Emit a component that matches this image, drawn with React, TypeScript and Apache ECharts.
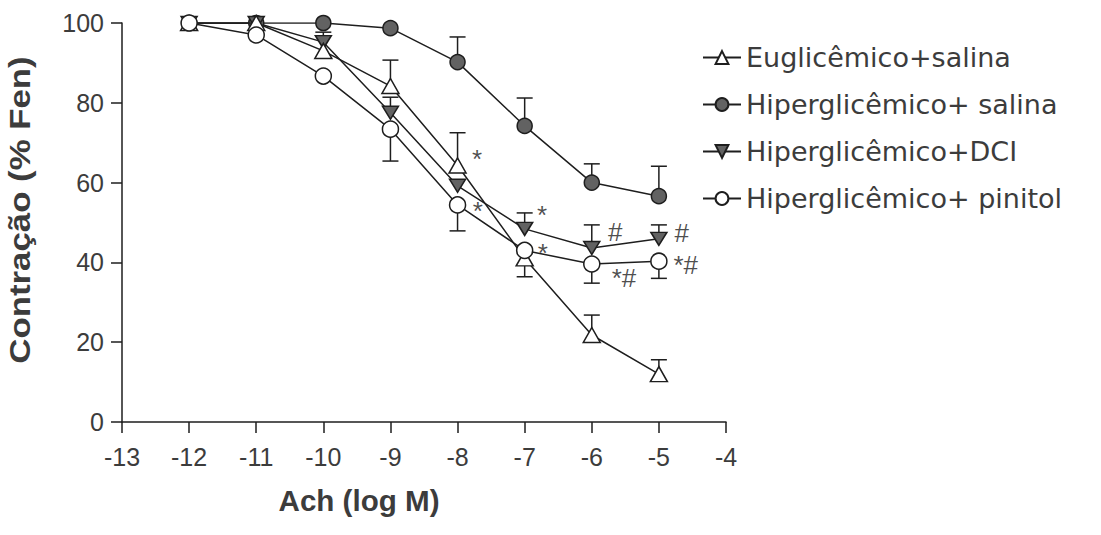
import React, { useEffect, useRef } from "react";
import * as echarts from "echarts";

const xVals = [-12, -11, -10, -9, -8, -7, -6, -5];
const xTicks = [-13, -12, -11, -10, -9, -8, -7, -6, -5, -4];
const yTicks = [0, 20, 40, 60, 80, 100];

const seriesNames = [
  "Euglicêmico+salina",
  "Hiperglicêmico+ salina",
  "Hiperglicêmico+DCI",
  "Hiperglicêmico+ pinitol",
];

const euVals = [100, 100, 93, 84.2, 64.3, 41, 21.8, 12];
const euErrUp = [0, 0, 0, 6.5, 8.2, 0, 5, 3.6];
const euErrDown = [0, 0, 0, 0, 0, 4.6, 0, 0];

const hsVals = [100, 100, 100, 98.7, 90.2, 74.2, 60, 56.6];
const hsErrUp = [0, 0, 0, 0, 6.3, 7, 4.7, 7.5];
const hsErrDown = [0, 0, 0, 0, 0, 0, 0, 0];

const dciVals = [100, 100, 95.2, 77.5, 59.2, 48.4, 43.6, 45.9];
const dciErrUp = [0, 0, 2.5, 3.9, 0, 4, 5.8, 3.5];
const dciErrDown = [0, 0, 0, 0, 0, 0, 0, 0];

const pinVals = [100, 97, 86.7, 73.4, 54.4, 43, 39.6, 40.3];
const pinErrUp = [0, 0, 0, 0, 0, 0, 0, 0];
const pinErrDown = [0, 0, 0, 8, 6.5, 0, 4.8, 4.3];

const annText = ["*", "*", "*", "*", "#", "#", "*#", "*#"];
const annX = [-7.71, -7.7, -6.74, -6.73, -5.65, -4.66, -5.52, -4.6];
const annY = [65.9, 52.9, 51.9, 42.4, 47.6, 47.4, 36.1, 39.3];

const INK = "#1e1e1e";
const TEXT = "#3c3c3c";
const FILL = "#626262";

function buildOption() {
  const groups = [
    { vals: euVals, up: euErrUp, dn: euErrDown },
    { vals: hsVals, up: hsErrUp, dn: hsErrDown },
    { vals: dciVals, up: dciErrUp, dn: dciErrDown },
    { vals: pinVals, up: pinErrUp, dn: pinErrDown },
  ];
  const errData: number[][] = [];
  groups.forEach((g) => {
    xVals.forEach((x, i) => {
      if (g.up[i] > 0 || g.dn[i] > 0) errData.push([x, g.vals[i], g.up[i], g.dn[i]]);
    });
  });

  const symbolStyles = [
    { symbol: "triangle", symbolSize: [17, 15], symbolRotate: 0, color: "#fff" },
    { symbol: "circle", symbolSize: 15, symbolRotate: 0, color: FILL },
    { symbol: "triangle", symbolSize: [16, 13], symbolRotate: 180, color: FILL },
    { symbol: "circle", symbolSize: 16, symbolRotate: 0, color: "#fff" },
  ];

  const lineSeries = groups.map((g, k) => ({
    name: seriesNames[k],
    type: "line",
    data: xVals.map((x, i) => [x, g.vals[i]]),
    symbol: symbolStyles[k].symbol,
    symbolSize: symbolStyles[k].symbolSize,
    symbolRotate: symbolStyles[k].symbolRotate,
    showAllSymbol: true,
    z: 3 + (k === 3 || k === 0 ? 1 : 0),
    lineStyle: { color: INK, width: 1.5 },
    itemStyle: { color: symbolStyles[k].color, borderColor: INK, borderWidth: 1.5 },
    emphasis: { disabled: true },
  }));

  return {
    animation: false,
    backgroundColor: "#fff",
    grid: { left: 122, top: 23, width: 604, height: 399, containLabel: false },
    xAxis: {
      type: "value",
      min: -13,
      max: -4,
      interval: 1,
      axisLine: { show: true, onZero: false, lineStyle: { color: INK, width: 1.5 } },
      axisTick: { show: true, length: 11, inside: false, lineStyle: { color: INK, width: 1.5 } },
      splitLine: { show: false },
      axisLabel: {
        margin: 22,
        fontSize: 25,
        color: TEXT,
        fontFamily: "Liberation Sans, Arial, sans-serif",
        formatter: (v: number) => (xTicks.includes(v) ? String(v) : ""),
      },
    },
    yAxis: {
      type: "value",
      min: 0,
      max: 100,
      interval: 20,
      axisLine: { show: true, onZero: false, lineStyle: { color: INK, width: 1.5 } },
      axisTick: { show: true, length: 11, inside: false, lineStyle: { color: INK, width: 1.5 } },
      splitLine: { show: false },
      axisLabel: {
        margin: 18,
        fontSize: 25,
        color: TEXT,
        fontFamily: "Liberation Sans, Arial, sans-serif",
        formatter: (v: number) => (yTicks.includes(v) ? String(v) : ""),
      },
    },
    legend: {
      orient: "vertical",
      left: 697,
      top: 39,
      itemWidth: 38,
      itemHeight: 16,
      itemGap: 20,
      data: seriesNames,
      selectedMode: false,
      textStyle: {
        fontSize: 27,
        color: TEXT,
        fontFamily: "DejaVu Sans, sans-serif",
      },
    },
    graphic: [
      {
        type: "text",
        x: 20,
        y: 210,
        rotation: Math.PI / 2,
        scaleX: 1.2,
        style: {
          text: "Contração (% Fen)",
          fontSize: 29,
          fontWeight: "bold",
          fontFamily: "Liberation Sans, Arial, sans-serif",
          fill: TEXT,
          align: "center",
          verticalAlign: "middle",
        },
      },
      {
        type: "text",
        x: 359,
        y: 501,
        scaleX: 1.02,
        style: {
          text: "Ach (log M)",
          fontSize: 29,
          fontWeight: "bold",
          fontFamily: "Liberation Sans, Arial, sans-serif",
          fill: TEXT,
          align: "center",
          verticalAlign: "middle",
        },
      },
    ],
    series: [
      {
        name: "err",
        type: "custom",
        z: 2,
        silent: true,
        data: errData,
        renderItem: (params: any, api: any) => {
          const x = api.value(0);
          const y = api.value(1);
          const up = api.value(2);
          const dn = api.value(3);
          const c = api.coord([x, y]);
          const children: any[] = [];
          const cap = 8;
          const st = { stroke: INK, lineWidth: 1.5 };
          if (up > 0) {
            const t = api.coord([x, y + up]);
            children.push({ type: "line", shape: { x1: c[0], y1: c[1], x2: t[0], y2: t[1] }, style: st });
            children.push({ type: "line", shape: { x1: t[0] - cap, y1: t[1], x2: t[0] + cap, y2: t[1] }, style: st });
          }
          if (dn > 0) {
            const b = api.coord([x, y - dn]);
            children.push({ type: "line", shape: { x1: c[0], y1: c[1], x2: b[0], y2: b[1] }, style: st });
            children.push({ type: "line", shape: { x1: b[0] - cap, y1: b[1], x2: b[0] + cap, y2: b[1] }, style: st });
          }
          return { type: "group", children };
        },
      },
      ...lineSeries,
      {
        name: "annotations",
        type: "scatter",
        symbolSize: 0,
        silent: true,
        z: 6,
        data: annX.map((x, i) => ({ value: [x, annY[i]], name: annText[i] })),
        label: {
          show: true,
          position: "inside",
          formatter: "{b}",
          fontSize: 26,
          color: INK,
          fontFamily: "Liberation Sans, Arial, sans-serif",
        },
      },
    ],
  };
}

export default function App() {
  const ref = useRef<HTMLDivElement>(null);
  useEffect(() => {
    if (!ref.current) return;
    const chart = echarts.init(ref.current, undefined, { renderer: "svg" });
    chart.setOption(buildOption() as any);
    return () => chart.dispose();
  }, []);
  return (
    <div
      ref={ref}
      style={{ position: "fixed", left: 0, top: 0, width: 1101, height: 535, background: "#fff" }}
    />
  );
}
